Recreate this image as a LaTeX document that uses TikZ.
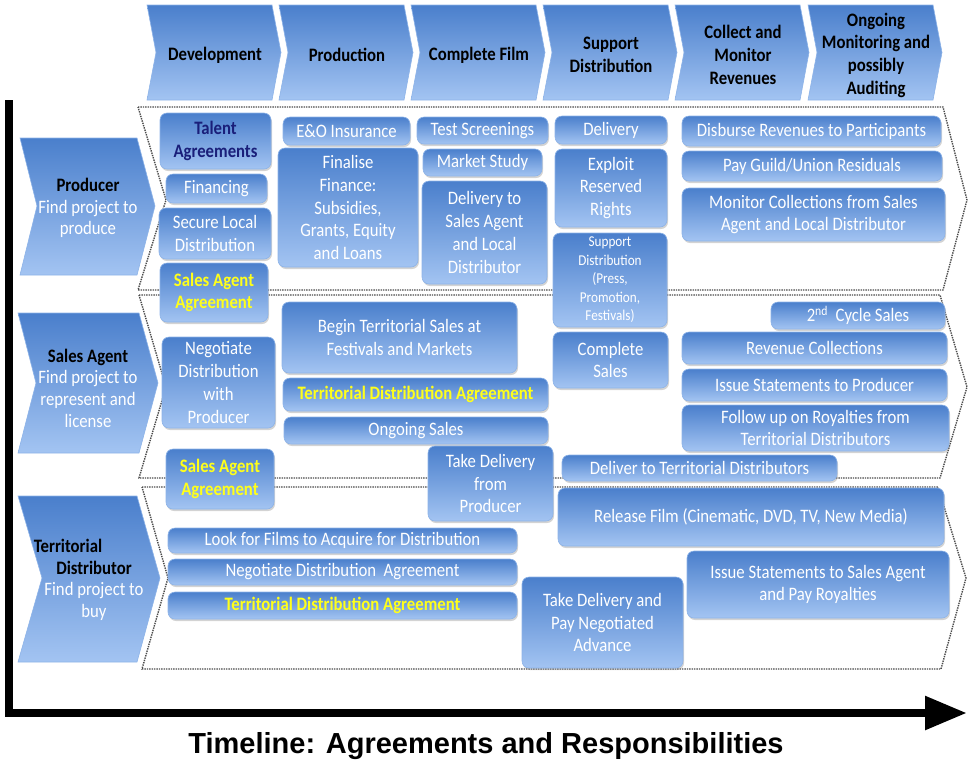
\documentclass[tikz,border=0pt]{standalone}
\usepackage{fontspec}
\setmainfont{Carlito}[FakeStretch=0.88]
\newfontfamily\titlefont{Liberation Sans}
\usetikzlibrary{arrows.meta,positioning,calc,shadows}
\definecolor{boxtop}{HTML}{4A7FCC}
\definecolor{boxbottom}{HTML}{A3C4F2}
\definecolor{boxedge}{HTML}{8DB3E8}
\definecolor{navytext}{HTML}{1A1F7A}
\definecolor{signyellow}{HTML}{FFFF1A}
\tikzset{
    >={Stealth[]},
    every picture/.style={line width=0.5pt},
    task/.style={rounded corners=7pt,draw=boxedge,line width=0.6pt,
        top color=boxtop,bottom color=boxbottom,text=white,align=center,
        inner sep=0pt,font=\fontsize{19}{22.7}\selectfont,
        drop shadow={opacity=0.35,shadow xshift=1pt,shadow yshift=-2pt}},
    agreement/.style={task,text=signyellow,font=\fontsize{19}{22.7}\selectfont\bfseries},
    talks/.style={task,font=\fontsize{15}{18.5}\selectfont},
    phase/.style={draw=boxedge,line width=0.6pt,top color=boxtop,bottom color=boxbottom},
    phasetext/.style={align=center,font=\fontsize{19}{22.7}\selectfont\bfseries},
    roletext/.style={align=center,text=white,font=\fontsize{19}{21.7}\selectfont},
    lane/.style={draw=gray!60!black,line width=1.4pt,densely dotted}
}
% one step of the timeline across the top
\newcommand\phasechevron[3]{%
    \shade[phase] (#2,5) -- ++(125,0) -- ++(9,47.5) -- ++(-9,47.5) -- ++(-125,0) -- ++(9,-47.5) -- cycle;
    \node[phasetext] (#1) at (#2+68,55) {#3};
}
% rounded task box from its corners: [style]{name}{x1}{y1}{x2}{y2}{text}
\newcommand\taskbox[7][task]{%
    \node[#1,minimum width={#5-#3},minimum height={#6-#4}] (#2) at ({(#3+#5)/2},{(#4+#6)/2+1}) {#7};
}
\begin{document}
\begin{tikzpicture}[x=1pt,y=-1pt]
    \useasboundingbox (0,0) rectangle (968,761);

    % phases
    \phasechevron{develop}{147}{Development}
    \phasechevron{produce}{279}{Production}
    \phasechevron{complete}{411}{Complete Film}
    \phasechevron{support}{543}{Support\\Distribution}
    \phasechevron{collect}{675}{Collect and\\Monitor\\Revenues}
    \phasechevron{monitor}{808}{Ongoing\\Monitoring and\\possibly\\Auditing}

    % swim lanes
    \draw[lane] (138,107) -- (943,107) -- (967,200) -- (943,290) -- (138,290) -- (166,200) -- cycle;
    \draw[lane] (139,295) -- (940,295) -- (967,387) -- (940,478) -- (139,478) -- (166,387) -- cycle;
    \draw[lane] (142,487) -- (938,487) -- (966,578) -- (941,669) -- (142,669) -- (168,578) -- cycle;

    % roles
    \shade[phase] (20,138) -- (137,138) -- (155,206) -- (137,275) -- (20,275) -- (37,206) -- cycle;
    \node[roletext] (producer) at (88,208) {\textbf{\color{black}Producer}\\Find project to\\produce};
    \shade[phase] (18,313) -- (139,313) -- (158,383) -- (139,453) -- (18,453) -- (36,383) -- cycle;
    \node[roletext] (agent) at (88,388) {\textbf{\color{black}Sales Agent}\\Find project to\\represent and\\license};
    \shade[phase] (18,496) -- (137,496) -- (160,578) -- (137,662) -- (18,662) -- (42,578) -- cycle;
    \node[roletext] (distributor) at (94,580) {\textbf{\color{black}Territorial}\hspace*{52pt}\\\textbf{\color{black}Distributor}\\Find project to\\buy};

    % producer lane
    \taskbox[task,text=navytext,font=\fontsize{19}{22.7}\selectfont\bfseries]{talent}{160}{112}{271}{168}{Talent\\Agreements}
    \taskbox{financing}{166}{173}{267}{202}{Financing}
    \taskbox{securelocal}{159}{207}{271}{258}{Secure Local\\Distribution}
    \taskbox{eoins}{283}{116}{410}{144}{E\&O Insurance}
    \taskbox{finance}{278}{147}{418}{266}{Finalise\\Finance:\\Subsidies,\\Grants, Equity\\and Loans}
    \taskbox{screenings}{417}{116}{548}{143}{Test Screenings}
    \taskbox{market}{423}{148}{542}{175}{Market Study}
    \taskbox{delivsales}{422}{180}{547}{283}{Delivery to\\Sales Agent\\and Local\\Distributor}
    \taskbox{delivery}{555}{115}{667}{143}{Delivery}
    \taskbox{exploit}{555}{148}{667}{226}{Exploit\\Reserved\\Rights}
    \taskbox{disburse}{682}{115}{941}{145}{Disburse Revenues to Participants}
    \taskbox{guild}{682}{150}{942}{180}{Pay Guild/Union Residuals}
    \taskbox{collections}{682}{187}{945}{240}{Monitor Collections from Sales\\Agent and Local Distributor}
    \taskbox[talks]{promotion}{553}{232}{667}{326}{Support\\Distribution\\(Press,\\Promotion,\\Festivals)}
    \taskbox[agreement]{salesagree}{160}{262}{268}{321}{Sales Agent\\Agreement}

    % sales agent lane
    \taskbox{negotiate}{162}{336}{275}{427}{Negotiate\\Distribution\\with\\Producer}
    \taskbox{begin}{282}{301}{517}{372}{Begin Territorial Sales at\\Festivals and Markets}
    \taskbox[agreement]{tdasales}{283}{377}{548}{410}{Territorial Distribution Agreement}
    \taskbox{ongoing}{284}{416}{548}{443}{Ongoing Sales}
    \taskbox{completesales}{553}{331}{668}{387}{Complete\\Sales}
    \taskbox{secondcycle}{771}{301}{945}{328}{2\textsuperscript{nd}\ \ Cycle Sales}
    \taskbox{revenue}{682}{331}{947}{363}{Revenue Collections}
    \taskbox{statements}{682}{368}{947}{400}{Issue Statements to Producer}
    \taskbox{royalties}{682}{404}{949}{450}{Follow up on Royalties from\\Territorial Distributors}
    \taskbox{deliverterr}{562}{454}{837}{480}{Deliver to Territorial Distributors}
    \taskbox[agreement]{salesagreetwo}{166}{448}{274}{508}{Sales Agent\\Agreement}
    \taskbox{takedelivery}{428}{445}{553}{520}{Take Delivery\\from\\Producer}

    % territorial distributor lane
    \taskbox{release}{558}{487}{944}{545}{Release Film (Cinematic, DVD, TV, New Media)}
    \taskbox{lookfor}{168}{527}{517}{552}{Look for Films to Acquire for Distribution}
    \taskbox{negotiateterr}{168}{558}{517}{584}{Negotiate Distribution\ \ Agreement}
    \taskbox[agreement]{tdaterr}{168}{591}{517}{618}{Territorial Distribution Agreement}
    \taskbox{takeadvance}{522}{576}{683}{667}{Take Delivery and\\Pay Negotiated\\Advance}
    \taskbox{statementsagent}{687}{550}{949}{617}{Issue Statements to Sales Agent\\and Pay Royalties}

    % time axis
    \coordinate (axistop) at (9,100);
    \coordinate (origin) at (9,713);
    \coordinate (axisend) at (967,713);
    \draw[line width=8.5pt,-{Triangle[length=42pt,width=32pt]}] (axistop) -- (origin) -- (axisend);
    \node[font=\titlefont\bfseries\fontsize{29}{32}\selectfont] (title) at (486,746) {Timeline: Agreements and Responsibilities};
\end{tikzpicture}
\end{document}
